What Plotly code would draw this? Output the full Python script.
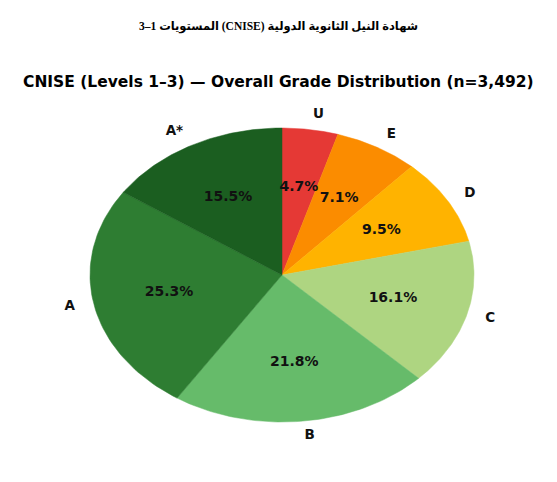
import numpy as np
import plotly.graph_objects as go

# grade shares, clockwise from 12 o'clock
grades = ['U', 'E', 'D', 'C', 'B', 'A', 'A*']
shares = [4.7, 7.1, 9.5, 16.1, 21.8, 25.3, 15.5]
colors = ['#e53935', '#fb8c00', '#ffb300', '#aed581', '#66bb6a', '#2e7d32', '#1b5e20']

title_ar = 'شهادة النيل الثانوية الدولية (CNISE) المستويات 1–3'
title_en = 'CNISE (Levels 1–3) — Overall Grade Distribution (n=3,492)'

W, H = 557, 482
OFF = 8                                # page body margin
cx, cy, rx, ry = 282 - OFF, 275 - OFF, 192, 147   # pie centre / radii in px

fig = go.Figure()

total = sum(shares)
start = 90.0
pct_x, pct_y, lab_pts = [], [], []
for g, s, c in zip(grades, shares, colors):
    sweep = 360.0 * s / total
    ang = np.radians(np.linspace(start, start - sweep, 60))
    xs = np.concatenate([[0], np.cos(ang), [0]])
    ys = np.concatenate([[0], np.sin(ang), [0]])
    fig.add_trace(go.Scatter(x=xs, y=ys, mode='lines', fill='toself', fillcolor=c,
                             line=dict(color=c, width=0.5), hoverinfo='skip', showlegend=False))
    mid = np.radians(start - sweep / 2)
    pct_x.append(0.6 * np.cos(mid))
    pct_y.append(0.6 * np.sin(mid))
    lab_pts.append((g, 1.1 * np.cos(mid), 1.1 * np.sin(mid)))
    start -= sweep

pct_font = dict(family='DejaVu Sans', size=14, color='#111111', weight='bold')
lab_font = dict(family='DejaVu Sans', size=13.5, color='#111111', weight='bold')

# percentage labels
fig.add_trace(go.Scatter(x=pct_x, y=pct_y, mode='text',
                         text=['{:.1f}%'.format(s) for s in shares],
                         textposition='middle center', textfont=pct_font,
                         hoverinfo='skip', showlegend=False))

# outer grade labels
for g, lx, ly in lab_pts:
    fig.add_trace(go.Scatter(x=[lx], y=[ly], mode='text', text=[g],
                             textposition='middle right' if lx > 0 else 'middle left',
                             textfont=lab_font, hoverinfo='skip', showlegend=False))

fig.update_xaxes(range=[-cx / rx, (W - cx) / rx], visible=False, fixedrange=True)
fig.update_yaxes(range=[-(H - cy) / ry, cy / ry], visible=False, fixedrange=True)

fig.update_layout(
    width=W,
    height=H,
    autosize=False,
    margin=dict(l=0, r=0, t=0, b=0),
    paper_bgcolor='white',
    plot_bgcolor='white',
    annotations=[
        dict(text='<b>\u202b' + title_ar + '\u202c</b>', x=(278 - OFF) / W, y=1 - (27 - OFF) / H,
             xref='paper', yref='paper', xanchor='center', yanchor='middle', showarrow=False,
             font=dict(family='Liberation Serif, DejaVu Sans', size=11.5, color='black')),
        dict(text=title_en, x=(278 - OFF) / W, y=1 - (82 - OFF) / H, xref='paper', yref='paper',
             xanchor='center', yanchor='middle', showarrow=False,
             font=dict(family='DejaVu Sans', size=15.5, color='black', weight='bold')),
    ],
)

fig.write_html('out.html')
